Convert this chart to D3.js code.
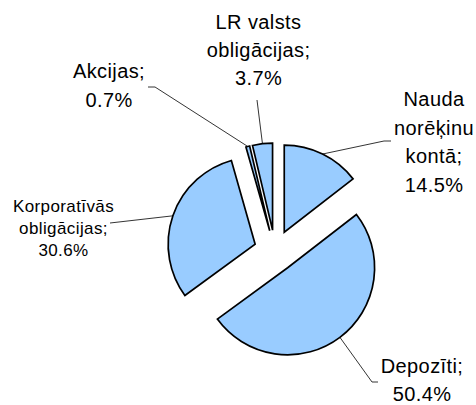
<!DOCTYPE html>
<html>
<head>
<meta charset="utf-8">
<script src="https://cdn.jsdelivr.net/npm/d3@7"></script>
<style>
  body { margin: 0; background: #fff; }
  text { font-family: "Liberation Sans", Arial, sans-serif; fill: #000; }
</style>
</head>
<body>
<svg id="chart" width="476" height="405"></svg>
<script>
// data
var categories = ["Nauda norēķinu kontā", "Depozīti", "Korporatīvās obligācijas", "Akcijas", "LR valsts obligācijas"];
var shares = [14.5, 50.4, 30.6, 0.7, 3.7];
var labelLines = [["Nauda", "norēķinu", "kontā"], ["Depozīti"], ["Korporatīvās", "obligācijas"], ["Akcijas"], ["LR valsts", "obligācijas"]];

// layout
var width = 476, height = 405;
var cx = 275, cy = 251, radius = 87, explode = 21;
var labelLayout = [
  { x: 434, y: 106, size: 20, lh: 28.7, leader: [[384, 141], [391, 141]] },
  { x: 422, y: 373, size: 20, lh: 28, leader: [[372, 382], [378, 382]] },
  { x: 63.5, y: 211.5, size: 17, lh: 22, leader: [[110, 223]] },
  { x: 109, y: 78, size: 20, lh: 28.5, leader: [[155, 87], [148, 87]] },
  { x: 258.5, y: 29, size: 20, lh: 28, leader: [[257, 100]] }
];

var fmt = d3.format(".1f");

var svg = d3.select("#chart");

var pie = d3.pie().sort(null).value(function(d) { return d; });
var arcs = pie(shares);

var arc = d3.arc().innerRadius(0).outerRadius(radius);

var g = svg.append("g").attr("transform", "translate(" + cx + "," + cy + ")");

function offset(d, r) {
  var a = (d.startAngle + d.endAngle) / 2;
  return [Math.sin(a) * r, -Math.cos(a) * r];
}

g.selectAll("path.slice")
  .data(arcs)
  .enter().append("path")
    .attr("class", "slice")
    .attr("transform", function(d) {
      var o = offset(d, explode);
      return "translate(" + o[0] + "," + o[1] + ")";
    })
    .attr("d", arc)
    .attr("fill", "#99ccff")
    .attr("stroke", "#000")
    .attr("stroke-width", 1.7)
    .attr("stroke-linejoin", "miter");

// leader lines
var line = d3.line();
svg.selectAll("path.leader")
  .data(arcs)
  .enter().append("path")
    .attr("class", "leader")
    .attr("d", function(d, i) {
      var o = offset(d, explode + radius);
      var pts = [[cx + o[0], cy + o[1]]].concat(labelLayout[i].leader);
      return line(pts);
    })
    .attr("fill", "none")
    .attr("stroke", "#000")
    .attr("stroke-width", 0.8);

// labels
var labels = svg.selectAll("text.label")
  .data(arcs)
  .enter().append("text")
    .attr("class", "label")
    .attr("text-anchor", "middle")
    .style("font-size", function(d, i) { return labelLayout[i].size + "px"; })
    .style("letter-spacing", "0.4px");

labels.each(function(d, i) {
  var lines = labelLines[i].slice();
  lines[lines.length - 1] += ";";
  lines.push(fmt(shares[i]) + "%");
  var L = labelLayout[i];
  d3.select(this).selectAll("tspan")
    .data(lines)
    .enter().append("tspan")
      .attr("x", L.x)
      .attr("y", function(t, j) { return L.y + j * L.lh; })
      .text(function(t) { return t; });
});
</script>
</body>
</html>
